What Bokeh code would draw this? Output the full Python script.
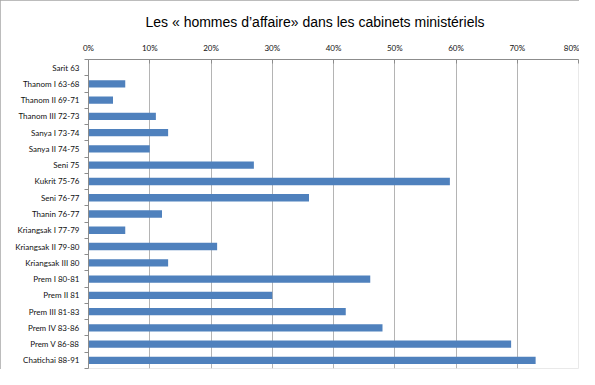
from bokeh.plotting import figure
from bokeh.models import Range1d, FixedTicker, NumeralTickFormatter, ColumnDataSource
from bokeh.embed import file_html
from bokeh.resources import INLINE

cabinets = ["Sarit 63", "Thanom I 63-68", "Thanom II 69-71", "Thanom III 72-73",
            "Sanya I 73-74", "Sanya II 74-75", "Seni 75", "Kukrit 75-76", "Seni 76-77",
            "Thanin 76-77", "Kriangsak I 77-79", "Kriangsak II 79-80", "Kriangsak III 80",
            "Prem I 80-81", "Prem II 81", "Prem III 81-83", "Prem IV 83-86",
            "Prem V 86-88", "Chatichai 88-91"]
share = [0.0, 0.06, 0.04, 0.11, 0.13, 0.10, 0.27, 0.59, 0.36, 0.12, 0.06, 0.21, 0.13,
         0.46, 0.30, 0.42, 0.48, 0.69, 0.73]
x_ticks = [0.0, 0.1, 0.2, 0.3, 0.4, 0.5, 0.6, 0.7, 0.8]
title_text = "Les « hommes d’affaire» dans les cabinets ministériels"

pos = list(range(len(cabinets)))
src = ColumnDataSource(dict(y=pos, v=share, name=cabinets))

p = figure(width=579, height=369, output_backend="svg", toolbar_location=None,
           x_range=Range1d(0, 0.8), y_range=Range1d(len(cabinets) - 0.5, -0.5),
           x_axis_location="above", min_border_left=88, min_border_right=1,
           min_border_top=59, min_border_bottom=1, outline_line_color=None,
           title=title_text, border_fill_color="#ffffff")
p.styles = {"outline": "1px solid #a6a6a6", "outline-offset": "-1px"}

p.title.text_font = "Liberation Sans"
p.title.text_font_size = "14px"
p.title.text_font_style = "normal"
p.title.text_color = "#000000"
p.title.align = "left"
p.title.offset = 57
p.title.standoff = 20

p.hbar(y="y", right="v", left=0, height=0.45, source=src,
       fill_color="#4f81bd", line_color=None)

xa = p.xaxis[0]
xa.ticker = FixedTicker(ticks=x_ticks)
xa.formatter = NumeralTickFormatter(format="0%")
xa.axis_line_color = "#8c8c8c"
xa.major_tick_line_color = "#8c8c8c"
xa.major_tick_in = 4
xa.major_tick_out = 0
xa.minor_tick_line_color = None
xa.major_label_text_font = "Lato"
xa.major_label_text_font_size = "8px"
xa.major_label_text_color = "#111111"
xa.major_label_standoff = 7

ya = p.yaxis[0]
ya.ticker = FixedTicker(ticks=pos, minor_ticks=[i - 0.5 for i in range(len(cabinets) + 1)])
ya.major_label_overrides = {i: n for i, n in zip(pos, cabinets)}
ya.axis_line_color = "#8c8c8c"
ya.major_tick_line_color = None
ya.minor_tick_line_color = "#8c8c8c"
ya.minor_tick_out = 4
ya.minor_tick_in = 0
ya.major_label_text_font = "Lato"
ya.major_label_text_font_size = "8px"
ya.major_label_text_color = "#111111"
ya.major_label_standoff = 3

p.xgrid.ticker = FixedTicker(ticks=x_ticks)
p.xgrid.grid_line_color = "#b4b4b4"
p.ygrid.grid_line_color = None

open("out.html", "w").write(file_html(p, INLINE))
